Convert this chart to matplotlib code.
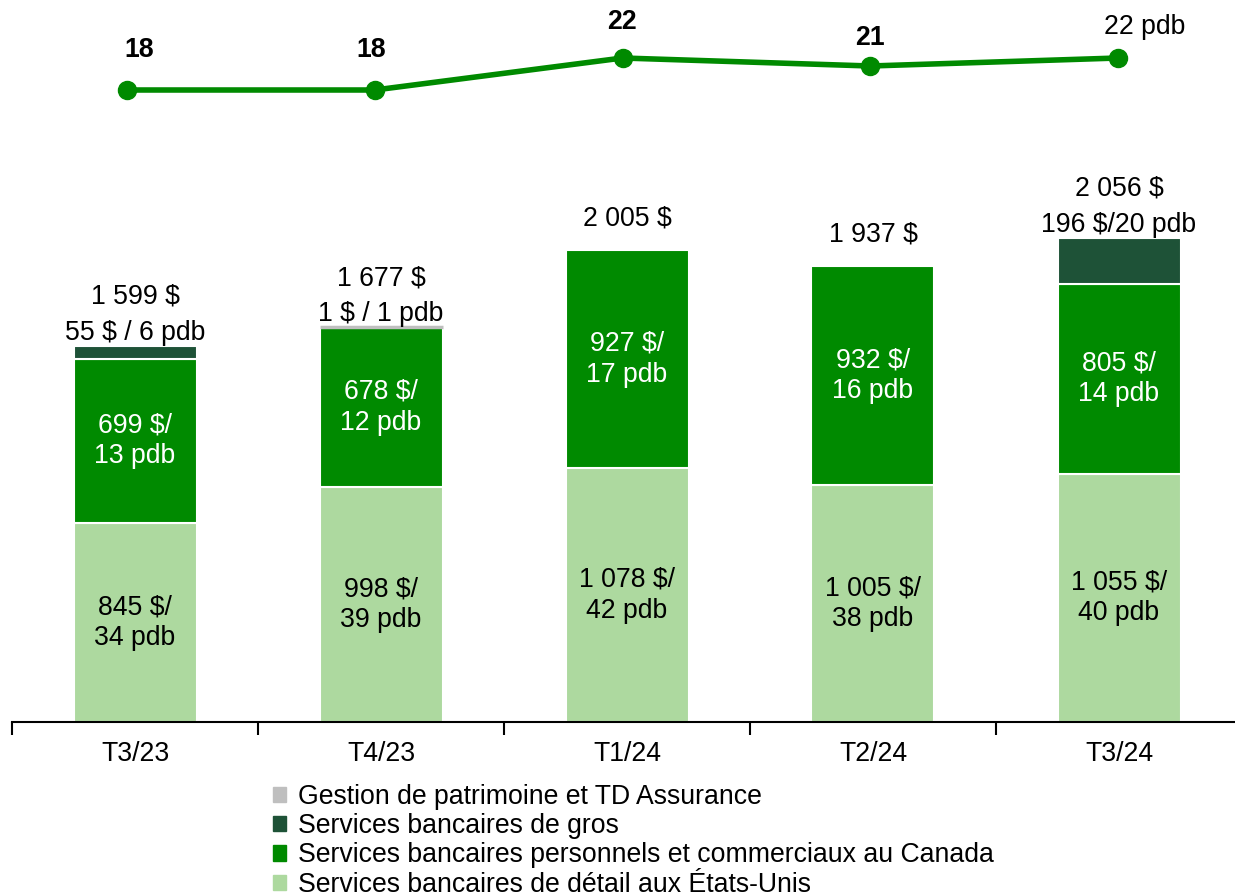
import numpy as np
import matplotlib
matplotlib.use("Agg")
import matplotlib.pyplot as plt
from matplotlib.patches import Patch

plt.rcParams['font.family'] = ['Liberation Sans', 'DejaVu Sans']

quarters = ['T3/23', 'T4/23', 'T1/24', 'T2/24', 'T3/24']
us_retail = [845, 998, 1078, 1005, 1055]
canada_pc = [699, 678, 927, 932, 805]
wholesale = [55, 0, 0, 0, 196]
wealth = [0, 1, 0, 0, 0]
totals = [1599, 1677, 2005, 1937, 2056]
us_labels = ['845 $/\n34 pdb', '998 $/\n39 pdb', '1 078 $/\n42 pdb', '1 005 $/\n38 pdb', '1 055 $/\n40 pdb']
ca_labels = ['699 $/\n13 pdb', '678 $/\n12 pdb', '927 $/\n17 pdb', '932 $/\n16 pdb', '805 $/\n14 pdb']
top_labels = ['55 $ / 6 pdb', '1 $ / 1 pdb', '', '', '196 $/20 pdb']
total_labels = ['1 599 $', '1 677 $', '2 005 $', '1 937 $', '2 056 $']
roe = [18, 18, 22, 21, 22]
roe_labels = ['18', '18', '22', '21', '22 pdb']

c_light = '#add99f'
c_green = '#008a00'
c_dark = '#1e5237'
c_grey = '#bfbfbf'

fs = 19.2
fig = plt.figure(figsize=(12.35, 8.94), dpi=100)
pos = [12/1235, (894-722)/894, 1230/1235, 722/894]
ax = fig.add_axes(pos)
x = np.arange(len(quarters))
w = 0.5

us = np.array(us_retail)
ca = np.array(canada_pc)
wh = np.array(wholesale)
we = np.array(wealth)

ax.bar(x, us, w, color=c_light, edgecolor='white', linewidth=1.5)
ax.bar(x, ca, w, bottom=us, color=c_green, edgecolor='white', linewidth=1.5)
m = wh > 0
ax.bar(x[m], wh[m], w, bottom=(us + ca)[m], color=c_dark, edgecolor='white', linewidth=1.5)
m = we > 0
ax.bar(x[m], we[m], w, bottom=(us + ca + wh)[m], color=c_grey, edgecolor=c_grey, linewidth=2.5)

for i in range(len(x)):
    ax.text(x[i], us[i] / 2, us_labels[i], ha='center', va='center', fontsize=fs, color='black', linespacing=1.25)
    ax.text(x[i], us[i] + ca[i] / 2, ca_labels[i], ha='center', va='center', fontsize=fs, color='white', linespacing=1.25)
    top = us[i] + ca[i] + wh[i] + we[i]
    if top_labels[i]:
        ax.annotate(top_labels[i], (x[i], top), xytext=(0, 13), textcoords='offset pixels',
                    ha='center', va='center', fontsize=fs)
        off = 49
    else:
        off = 32
    ax.annotate(total_labels[i], (x[i], top), xytext=(0, off), textcoords='offset pixels',
                ha='center', va='center', fontsize=fs)

ax.set_xlim(-0.5, 4.5)
ax.set_ylim(0, 722 / (484 / 2056))
ax.set_yticks([])
for s in ['top', 'right', 'left']:
    ax.spines[s].set_visible(False)
ax.spines['bottom'].set_linewidth(1.5)
ax.set_xticks(x)
ax.set_xticklabels(quarters, fontsize=fs)
ax.tick_params(axis='x', which='major', length=0, pad=14)
ax.set_xticks(np.arange(-0.5, 5, 1), minor=True)
ax.tick_params(axis='x', which='minor', length=9, width=1.5, direction='out')

# ligne RCP
ax2 = fig.add_axes(pos)
ax2.set_xlim(-0.464, 4.5)
ax2.set_ylim(18 - 632 / 8, 18 + 90 / 8)
ax2.axis('off')
ax2.plot(x, roe, color=c_green, linewidth=4, marker='o', markersize=13)
offsets = [(12, 40), (-4, 40), (-1, 36), (0, 28), (27, 31)]
for i in range(len(x)):
    bold = 'bold' if i < len(x) - 1 else 'normal'
    ax2.annotate(roe_labels[i], (x[i], roe[i]), xytext=offsets[i], textcoords='offset pixels',
                 ha='center', va='center', fontsize=fs, fontweight=bold)

handles = [Patch(color=c_grey), Patch(color=c_dark), Patch(color=c_green), Patch(color=c_light)]
names = ['Gestion de patrimoine et TD Assurance', 'Services bancaires de gros',
         'Services bancaires personnels et commerciaux au Canada',
         'Services bancaires de détail aux États-Unis']
fig.legend(handles, names, loc='upper left', bbox_to_anchor=(273/1235, 1 - 784/894), frameon=False,
           fontsize=fs, handlelength=0.5, handleheight=0.5, handletextpad=0.45, labelspacing=0.12,
           borderpad=0, borderaxespad=0)

fig.savefig('out.png', dpi=100)
